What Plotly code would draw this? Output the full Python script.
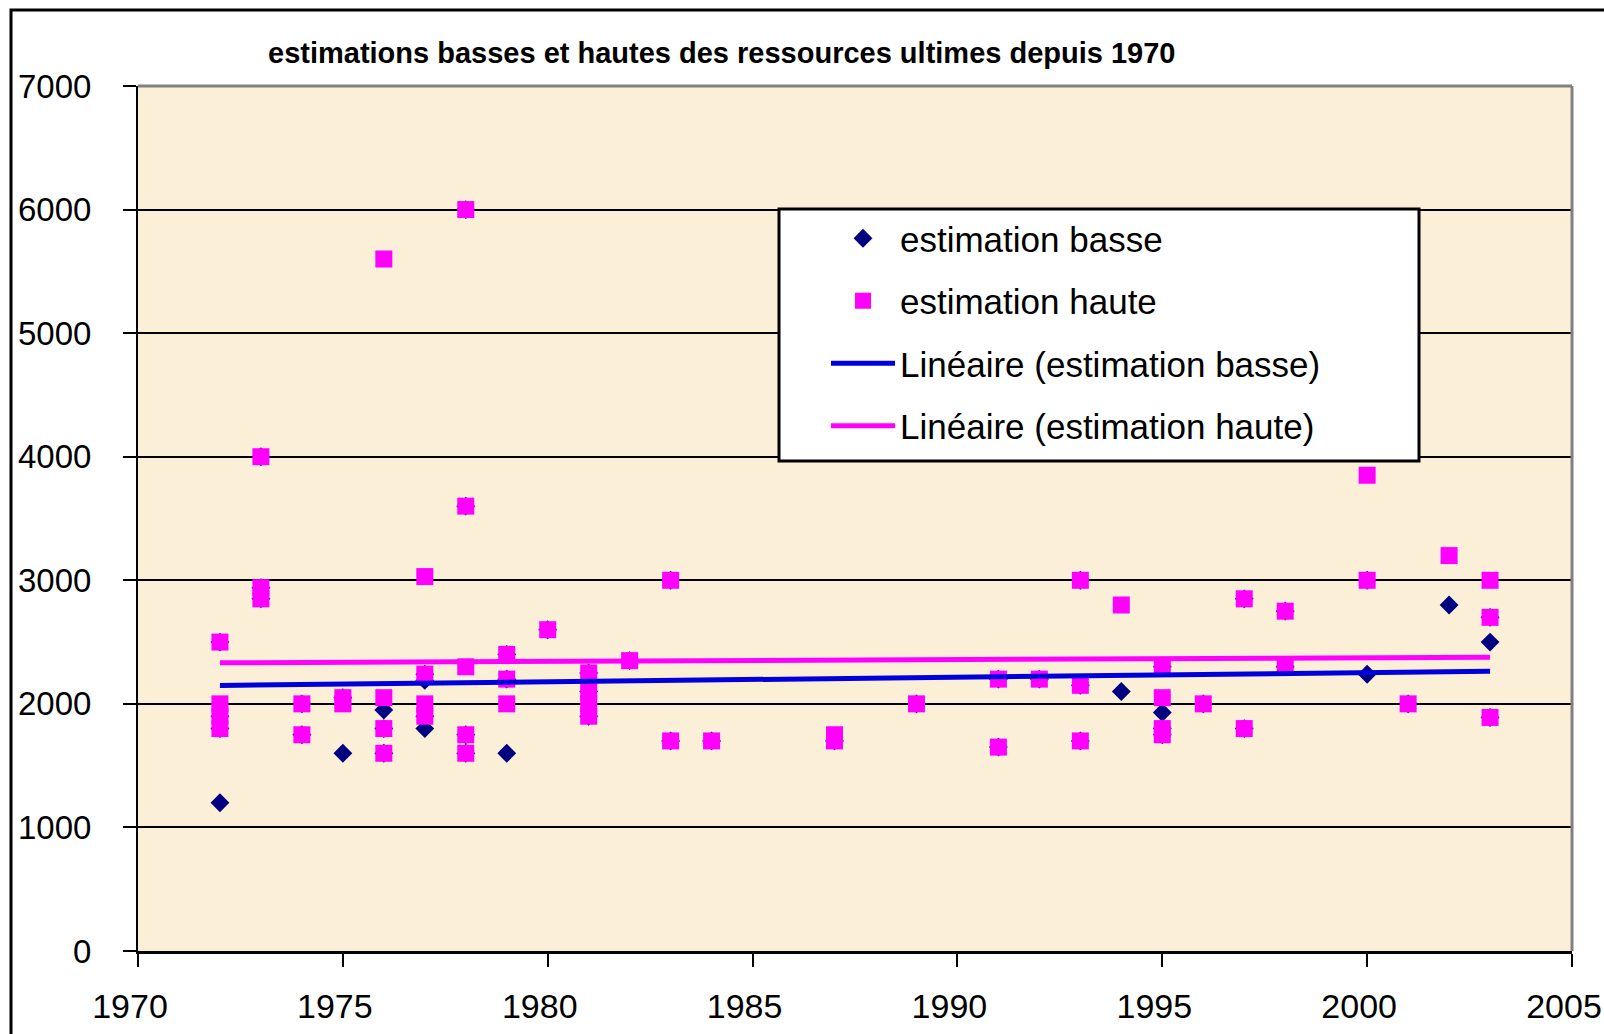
import plotly.graph_objects as go

# Estimations basses (losanges)
annee_basse = [1972, 1972, 1972, 1972,
               1973, 1973, 1973,
               1974, 1974,
               1975, 1975,
               1976, 1976, 1976,
               1977, 1977, 1977, 1977,
               1978, 1978, 1978, 1978,
               1979, 1979, 1979,
               1980,
               1981, 1981, 1981,
               1982,
               1983, 1983,
               1984,
               1987,
               1989,
               1991, 1991,
               1992,
               1993, 1993, 1993,
               1994,
               1995, 1995, 1995, 1995,
               1996,
               1997, 1997,
               1998, 1998,
               2000, 2000,
               2001,
               2002,
               2003, 2003, 2003]
basse = [2500, 1900, 1800, 1200,
         4000, 2940, 2850,
         2000, 1750,
         2050, 1600,
         1950, 1800, 1600,
         2240, 2190, 1900, 1800,
         6000, 3600, 1750, 1600,
         2400, 2200, 1600,
         2600,
         2250, 2100, 1900,
         2350,
         3000, 1700,
         1700,
         1700,
         2000,
         2200, 1650,
         2200,
         3000, 2150, 1700,
         2100,
         2300, 1930, 1800, 1750,
         2000,
         2850, 1800,
         2750, 2300,
         3000, 2240,
         2000,
         2800,
         2700, 2500, 1890]

# Estimations hautes (carrés)
annee_haute = [1972, 1972, 1972, 1972,
               1973, 1973, 1973,
               1974, 1974,
               1975, 1975,
               1976, 1976, 1976, 1976,
               1977, 1977, 1977, 1977,
               1978, 1978, 1978, 1978, 1978,
               1979, 1979, 1979,
               1980,
               1981, 1981, 1981, 1981,
               1982,
               1983, 1983,
               1984,
               1987, 1987,
               1989,
               1991, 1991,
               1992,
               1993, 1993, 1993,
               1994,
               1995, 1995, 1995, 1995,
               1996,
               1997, 1997,
               1998, 1998,
               2000, 2000,
               2001,
               2002,
               2003, 2003, 2003]
haute = [2500, 2000, 1900, 1800,
         4000, 2940, 2850,
         2000, 1750,
         2050, 2000,
         5600, 2050, 1800, 1600,
         3030, 2240, 2000, 1900,
         6000, 3600, 2300, 1750, 1600,
         2400, 2200, 2000,
         2600,
         2250, 2100, 2000, 1900,
         2350,
         3000, 1700,
         1700,
         1750, 1700,
         2000,
         2200, 1650,
         2200,
         3000, 2150, 1700,
         2800,
         2300, 2050, 1800, 1750,
         2000,
         2850, 1800,
         2750, 2300,
         3850, 3000,
         2000,
         3200,
         3000, 2700, 1890]

# Droites de tendance linéaire (extrémités)
annees_tendance = [1972, 2003]
tendance_basse = [2149, 2264]
tendance_haute = [2332, 2378]

x_ticks = [1970, 1975, 1980, 1985, 1990, 1995, 2000, 2005]
y_ticks = [0, 1000, 2000, 3000, 4000, 5000, 6000, 7000]

FONT = "Arial, 'Liberation Sans', sans-serif"

# Zone de traçage en pixels
L, R, T, B = 138, 32, 86, 83
W, H = 1604, 1034
PW, PH = W - L - R, H - T - B


def px_x(x):
    return (x - L) / PW


def px_y(y):
    return (H - B - y) / PH


fig = go.Figure()

fig.add_trace(go.Scatter(
    x=annee_basse, y=basse, mode="markers", name="estimation basse",
    legendgroup="g1",
    marker=dict(symbol="diamond", size=14.5, color="#000080", line=dict(width=0)),
))
fig.add_trace(go.Scatter(
    x=annee_haute, y=haute, mode="markers", name="estimation haute",
    legendgroup="g2",
    marker=dict(symbol="square", size=17, color="#FF00FF", line=dict(width=0)),
))
fig.add_trace(go.Scatter(
    x=annees_tendance, y=tendance_basse, mode="lines",
    name="Linéaire (estimation basse)", legendgroup="g3",
    line=dict(color="#0000DD", width=5),
))
fig.add_trace(go.Scatter(
    x=annees_tendance, y=tendance_haute, mode="lines",
    name="Linéaire (estimation haute)", legendgroup="g4",
    line=dict(color="#FF00FF", width=5),
))

fig.update_layout(
    width=W, height=H,
    margin=dict(l=L, r=R, t=T, b=B, autoexpand=False),
    paper_bgcolor="white",
    plot_bgcolor="#FBEFD8",
    font=dict(family=FONT, color="black"),
    showlegend=True,
    legend=dict(
        x=px_x(826), xanchor="left",
        y=px_y(209), yanchor="top",
        bgcolor="rgba(0,0,0,0)",
        borderwidth=0,
        font=dict(size=35, family=FONT, color="black"),
        traceorder="grouped",
        tracegroupgap=14,
        itemwidth=64,
    ),
    annotations=[dict(
        text="<b>estimations basses et hautes des ressources ultimes depuis 1970</b>",
        xref="paper", yref="paper",
        x=px_x(721), y=px_y(53),
        xanchor="center", yanchor="middle",
        showarrow=False,
        font=dict(size=29, family=FONT, color="black"),
    )],
    shapes=[
        # cadre blanc de la légende
        dict(type="rect", xref="paper", yref="paper", layer="above",
             x0=px_x(779), x1=px_x(1419),
             y0=px_y(461), y1=px_y(209),
             fillcolor="white", line=dict(color="black", width=3)),
        # bord supérieur et droit de la zone de traçage
        dict(type="line", xref="paper", yref="paper", layer="above",
             x0=0, x1=1, y0=1, y1=1, line=dict(color="#808080", width=3)),
        dict(type="line", xref="paper", yref="paper", layer="above",
             x0=1, x1=1, y0=0, y1=1, line=dict(color="#808080", width=3)),
        # cadre extérieur du graphique
        dict(type="rect", xref="paper", yref="paper", layer="above",
             x0=px_x(11), x1=px_x(1700),
             y0=px_y(1200), y1=px_y(10),
             fillcolor="rgba(0,0,0,0)", line=dict(color="black", width=3)),
    ],
)

fig.update_xaxes(
    range=[1970, 2005], tickvals=x_ticks, ticktext=[str(v) for v in x_ticks],
    showgrid=False, zeroline=False, automargin=False,
    showline=True, linecolor="black", linewidth=3,
    ticks="outside", ticklen=13, tickwidth=2, tickcolor="black",
    tickfont=dict(size=34, family=FONT, color="black"),
    ticklabelstandoff=10, ticklabelshift=-8,
)
fig.update_yaxes(
    range=[0, 7000], tickvals=y_ticks, ticktext=[str(v) for v in y_ticks],
    showgrid=True, gridcolor="black", gridwidth=2, zeroline=False,
    automargin=False,
    showline=True, linecolor="black", linewidth=2,
    ticks="outside", ticklen=13, tickwidth=2, tickcolor="black",
    tickfont=dict(size=33, family=FONT, color="black"),
    ticklabelstandoff=25,
)

fig.write_html("out.html")
